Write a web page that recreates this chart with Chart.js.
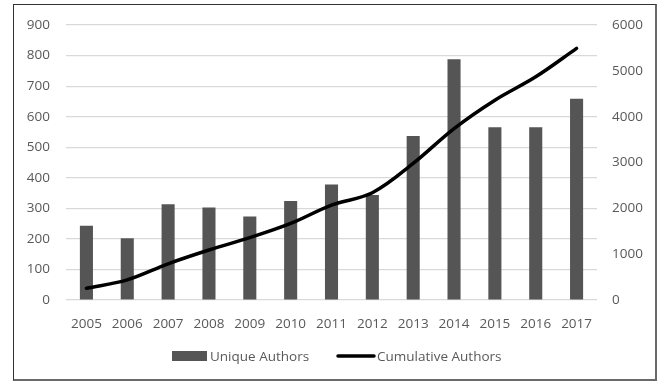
<!DOCTYPE html>
<html>
<head>
<meta charset="utf-8">
<script src="https://cdn.jsdelivr.net/npm/chart.js@4/dist/chart.umd.min.js"></script>
<style>
  html, body { margin: 0; padding: 0; background: #fff; }
  #wrap { position: relative; width: 661px; height: 384px; }
  #frame {
    position: absolute; left: 13px; top: 4px; width: 644px; height: 377px;
    border-left: 1px solid #333; border-top: 1px solid #333;
    border-right: 2px solid #6a6a6a; border-bottom: 2px solid #6a6a6a;
    pointer-events: none; box-sizing: border-box;
  }
  canvas { display: block; }
</style>
</head>
<body>
<div id="wrap">
  <canvas id="chart" width="661" height="384"></canvas>
  <div id="frame"></div>
</div>
<script>
// Authors per year and running total
const years = ['2005','2006','2007','2008','2009','2010','2011','2012','2013','2014','2015','2016','2017'];
const uniqueAuthors = [243, 202, 313, 303, 273, 324, 378, 344, 537, 788, 565, 565, 659];
const cumulativeAuthors = [255, 440, 790, 1090, 1360, 1670, 2070, 2340, 2980, 3740, 4360, 4870, 5490];
const leftTicks = [0, 100, 200, 300, 400, 500, 600, 700, 800, 900];
const rightTicks = [0, 1000, 2000, 3000, 4000, 5000, 6000];

const textColor = '#595959';
const gridColor = '#d9d9d9';
const fontFamily = '"Open Sans", "Liberation Sans", sans-serif';

// Legend drawn under the axis: a wide bar swatch and a line swatch
const bottomLegend = {
  id: 'bottomLegend',
  afterDraw(chart) {
    const ctx = chart.ctx;
    const y = 356;
    const bars = chart.data.datasets.find(d => d.type === 'bar');
    const line = chart.data.datasets.find(d => d.type === 'line');
    ctx.save();
    ctx.font = '13.5px ' + fontFamily;
    ctx.textBaseline = 'middle';
    // bar entry
    ctx.fillStyle = bars.backgroundColor;
    ctx.fillRect(172, y - 5, 35, 10);
    ctx.fillStyle = textColor;
    ctx.fillText(bars.label, 210, y + 1);
    // line entry
    ctx.strokeStyle = line.borderColor;
    ctx.lineWidth = 3.5;
    ctx.lineCap = 'round';
    ctx.beginPath();
    ctx.moveTo(338, y);
    ctx.lineTo(374, y);
    ctx.stroke();
    ctx.fillText(line.label, 377, y + 1);
    ctx.restore();
  }
};

const tickFont = { family: fontFamily, size: 13.5 };
const plain = v => String(v);

new Chart(document.getElementById('chart'), {
  data: {
    labels: years,
    datasets: [
      {
        type: 'line',
        label: 'Cumulative Authors',
        data: cumulativeAuthors,
        yAxisID: 'yRight',
        borderColor: '#000000',
        backgroundColor: '#000000',
        borderWidth: 3.5,
        pointRadius: 0,
        tension: 0.35,
        borderCapStyle: 'round',
        order: 0
      },
      {
        type: 'bar',
        label: 'Unique Authors',
        data: uniqueAuthors,
        yAxisID: 'yLeft',
        backgroundColor: '#555555',
        categoryPercentage: 1,
        barPercentage: 0.32,
        order: 1
      }
    ]
  },
  options: {
    responsive: false,
    animation: false,
    events: [],
    layout: { padding: { top: 25, bottom: 54, left: 0, right: 0 } },
    plugins: { legend: { display: false }, tooltip: { enabled: false } },
    scales: {
      x: {
        grid: { display: false, drawTicks: false },
        border: { display: false },
        ticks: { color: textColor, font: tickFont, padding: 16, maxRotation: 0 },
        afterFit(s) { s.height = 30; }
      },
      yLeft: {
        position: 'left',
        min: 0, max: 900,
        afterBuildTicks(s) { s.ticks = leftTicks.map(v => ({ value: v })); },
        grid: { color: gridColor, lineWidth: 1.2, drawTicks: false },
        border: { display: false },
        ticks: { color: textColor, font: tickFont, padding: 16, callback: plain },
        afterFit(s) { s.width = 66; }
      },
      yRight: {
        position: 'right',
        min: 0, max: 6000,
        afterBuildTicks(s) { s.ticks = rightTicks.map(v => ({ value: v })); },
        grid: { display: false, drawTicks: false },
        border: { display: false },
        ticks: { color: textColor, font: tickFont, padding: 15, callback: plain },
        afterFit(s) { s.width = 64; }
      }
    }
  },
  plugins: [bottomLegend]
});
</script>
</body>
</html>
